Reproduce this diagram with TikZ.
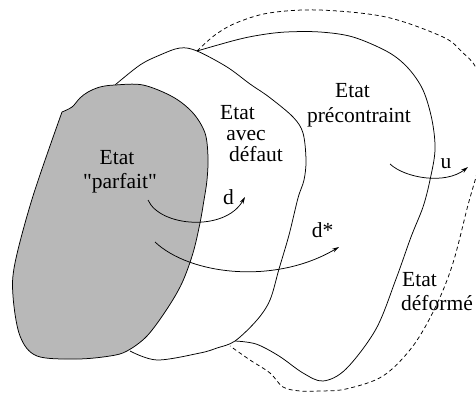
\documentclass[tikz,border=0pt]{standalone}
\usepackage{fontspec}
\newfontfamily\lblfont{Liberation Serif}
\usetikzlibrary{arrows.meta}
\definecolor{blobfill}{RGB}{184,184,184}
\tikzset{
  outline/.style={line width=0.75pt, line join=round},
  dashedoutline/.style={outline, dash pattern=on 4pt off 3pt},
  arrowcurve/.style={outline, -{Stealth[length=7pt,width=4pt]}},
  lbl/.style={anchor=base, inner sep=0pt, font=\lblfont\fontsize{21.5}{23}\selectfont},
}
\begin{document}
\begin{tikzpicture}[x=1pt, y=-1pt]
\useasboundingbox (0,0) rectangle (476,393);
\clip (0,0) rectangle (476,393);

% deformed state (dashed outline)
\draw[dashedoutline] plot[smooth, tension=0.55] coordinates {
  (197,51) (215,35) (236,23) (269,13) (319,10) (386,17) (443,37) (462,52)
  (476,68) (484,100) (484,140) (477,173) (468,205) (453,263) (436,306)
  (413,346) (383,376) (346,389) (320,391) (300,391) (283,387) (270,373)
  (250,360) (230,346)};

% prestressed state
\draw[outline] plot[smooth, tension=0.55] coordinates {
  (235,341) (256,344) (279,356) (303,373) (323,381) (346,369) (376,329)
  (396,279) (411,237) (423,207) (430,180) (435,150) (432,120) (423,90)
  (408,68) (388,52) (353,37) (320,32) (286,32) (260,35) (236,40) (197,51)};

% state with defect
\draw[outline] plot[smooth, tension=0.55] coordinates {
  (115,85) (140,65) (160,55) (180,48) (197,51) (227,67) (250,84) (269,97)
  (293,117) (303,133) (306,160) (304,180) (298,198) (289,235) (279,269)
  (270,300) (257,320) (235,341) (217,348) (200,353) (157,360) (130,351)};

% perfect state (shaded)
\filldraw[outline, fill=blobfill] plot[smooth, tension=0.55] coordinates {
  (62,112) (72,107) (80,98) (88,92) (100,87) (115,85) (143,85) (173,97)
  (193,113) (205,133) (208,157) (207,180) (204,200) (200,223) (193,253)
  (182,283) (167,309) (147,336) (127,351) (110,356) (77,359) (37,356)
  (20,336) (13,296) (15,263) (33,196) (62,112)} -- cycle;

% displacement arrows
\coordinate (dA) at (148,200);
\coordinate (dB) at (245,197);
\coordinate (sA) at (155,242);
\coordinate (sB) at (339,247);
\coordinate (uA) at (390,164);
\coordinate (uB) at (468,167);
\draw[arrowcurve] (dA) .. controls (160,227) and (225,232) .. (dB);
\draw[arrowcurve] (sA) .. controls (190,275) and (275,285) .. (sB);
\draw[arrowcurve] (uA) .. controls (405,178) and (445,185) .. (uB);

% labels
\node[lbl] (p1) at (117,164) {Etat};
\node[lbl] (p2) at (120,188) {"parfait"};
\node[lbl] (a1) at (237.5,120) {Etat};
\node[lbl] (a2) at (246,140) {avec};
\node[lbl] (a3) at (256,161) {défaut};
\node[lbl] (c1) at (352.5,98) {Etat};
\node[lbl] (c2) at (359,123) {précontraint};
\node[lbl] (f1) at (419.5,286) {Etat};
\node[lbl] (f2) at (437,310) {déformé};
\node[lbl] (ld) at (228.5,204) {d};
\node[lbl] (ls) at (322.5,237) {d*};
\node[lbl] (lu) at (446,168) {u};
\end{tikzpicture}
\end{document}
